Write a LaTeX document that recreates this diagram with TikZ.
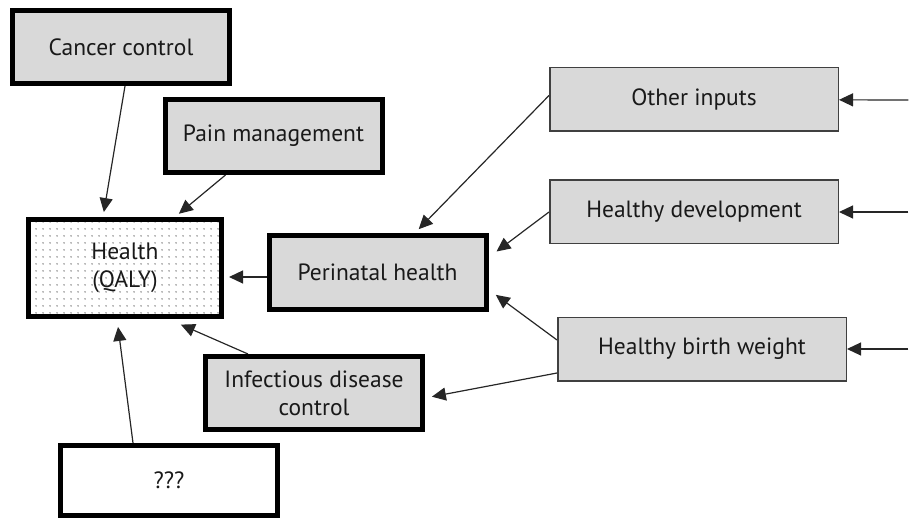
\documentclass[tikz,border=0pt]{standalone}
\usepackage{fontspec}
\setmainfont{PT Sans}
\usetikzlibrary{arrows.meta,patterns}
\pgfdeclarelayer{edgelayer}
\pgfdeclarelayer{nodelayer}
\pgfsetlayers{edgelayer,nodelayer,main}
\definecolor{boxgrey}{RGB}{217,217,217}
\definecolor{dotgrey}{RGB}{120,120,120}
\definecolor{inkgrey}{RGB}{25,25,25}
\pgfdeclarepatternformonly{finedots}{\pgfpointorigin}{\pgfpoint{6.5pt}{6.5pt}}{\pgfpoint{6.5pt}{6.5pt}}{\pgfpathcircle{\pgfpoint{3.25pt}{3.25pt}}{0.85pt}\pgfusepath{fill}}
\tikzstyle{none}=[inner sep=0pt]
\tikzstyle{boxtext}=[rectangle,text=inkgrey,align=center,inner sep=0pt,font=\fontsize{23.5}{28}\selectfont]
\tikzstyle{program}=[boxtext,fill=boxgrey,draw=black,line width=5pt,minimum width=217pt,minimum height=73pt]
\tikzstyle{outcome}=[boxtext,pattern=finedots,pattern color=dotgrey,draw=black,line width=5pt,minimum width=193pt,minimum height=97pt]
\tikzstyle{unknown}=[boxtext,fill=white,draw=black,line width=5pt,minimum width=217pt,minimum height=70pt]
\tikzstyle{input}=[boxtext,fill=boxgrey,draw=black!75,line width=1.5pt,minimum width=288.5pt,minimum height=63.5pt]
\tikzstyle{inarrow}=[-{Triangle[length=14pt,width=13pt]},line width=1.2pt,draw=black!85]

\begin{document}
\begin{tikzpicture}[x=1pt,y=-1pt]
	\useasboundingbox (0,0) rectangle (909,518);
	\begin{pgfonlayer}{nodelayer}
		\node [style=outcome] (0) at (125, 268) {Health\\(QALY)};
		\node [style=program] (1) at (121, 47) {Cancer control};
		\node [style=program] (2) at (273.5, 136) {Pain management};
		\node [style=program] (3) at (377.5, 272.5) {Perinatal health};
		\node [style=program] (4) at (314, 393) {Infectious disease\\control};
		\node [style=unknown] (5) at (169, 480.5) {???};
		\node [style=input] (6) at (694, 99.5) {Other inputs};
		\node [style=input] (7) at (694, 212) {Healthy development};
		\node [style=input] (8) at (702, 349) {Healthy birth weight};
		\node [style=none] (9) at (909, 100) {};
		\node [style=none] (10) at (909, 212) {};
		\node [style=none] (11) at (909, 349) {};
	\end{pgfonlayer}
	\begin{pgfonlayer}{edgelayer}
		\draw [style=inarrow, shorten >=5pt] ([xshift=4pt]1.south) to ([xshift=-22pt]0.north);
		\draw [style=inarrow, shorten >=5pt] ([xshift=-48pt]2.south) to ([xshift=50pt]0.north);
		\draw [style=inarrow, shorten >=5pt] ([yshift=-4.5pt]3.west) to ([yshift=-9pt]0.east);
		\draw [style=inarrow, shorten >=14pt] ([xshift=-66pt]4.north) to ([xshift=43pt]0.south);
		\draw [style=inarrow, shorten >=8pt] ([xshift=-36pt]5.north) to ([xshift=-8pt]0.south);
		\draw [style=inarrow, shorten >=6pt] ([yshift=4pt]6.west) to ([xshift=37pt]3.north);
		\draw [style=inarrow, shorten >=10pt] (7.west) to ([yshift=15pt]3.east);
		\draw [style=inarrow, shorten >=9pt] ([yshift=9pt]8.west) to ([yshift=-17pt]3.east);
		\draw [style=inarrow, shorten >=7pt] ([yshift=-24pt]8.west) to ([yshift=-5pt]4.east);
		\draw [style=inarrow] (9) to (6);
		\draw [style=inarrow] (10) to (7);
		\draw [style=inarrow] (11) to (8);
	\end{pgfonlayer}
\end{tikzpicture}
\end{document}
